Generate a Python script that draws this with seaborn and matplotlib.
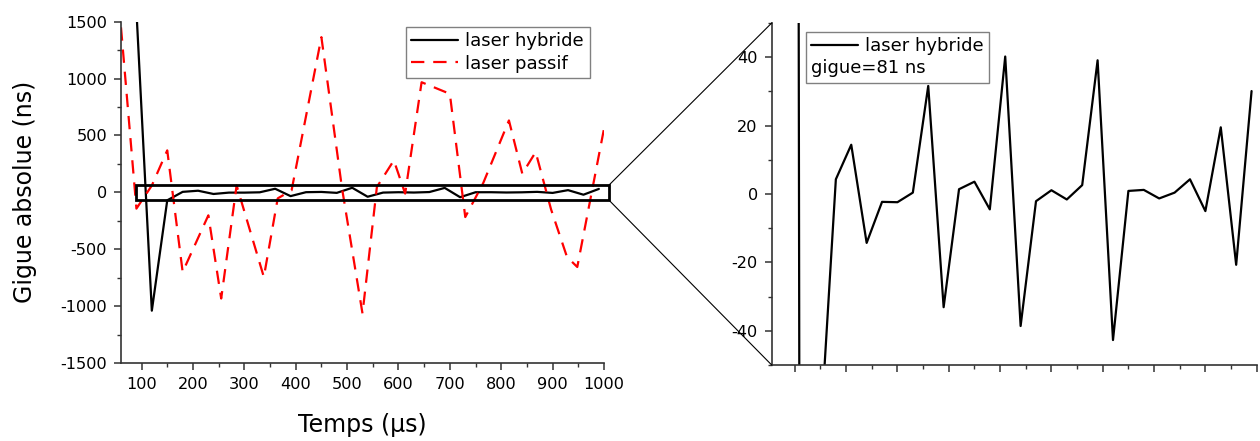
import numpy as np
import pandas as pd
import matplotlib
matplotlib.use("Agg")
import matplotlib.pyplot as plt
import seaborn as sns
from matplotlib.patches import Rectangle, ConnectionPatch
from matplotlib.ticker import MultipleLocator, NullFormatter

# ---- data ----
hyb_t = [90, 120, 150, 180, 210, 240, 270, 300, 330, 360, 390, 420, 450, 480,
         510, 540, 570, 600, 630, 660, 690, 720, 750, 780, 810, 840, 870, 900,
         930, 960, 990]
hyb_v = [1600, -1040, -70, 4.3, 14.4, -14.3, -2.3, -2.4, 0.4, 31.6, -33.1, 1.4,
         3.6, -4.5, 40.2, -38.6, -2.1, 1.1, -1.6, 2.6, 39.1, -42.7, 0.9, 1.2,
         -1.3, 0.4, 4.3, -5.0, 19.5, -20.7, 30.1]

pas_t = [60, 90, 120, 150, 180, 230, 255, 285, 338, 365, 392, 450, 490, 530,
         558, 591, 613, 645, 700, 730, 765, 815, 841, 867, 897, 928, 948, 1000]
pas_v = [1450, -143, 60, 369, -700, -202, -933, 61, -744, -53, 18, 1364, 40,
         -1065, 47, 281, -11, 968, 866, -217, 82, 632, 164, 354, -150, -568,
         -656, 559]

labels_main = ["laser hybride", "laser passif"]
note = "gigue=81 ns"
xlabel = "Temps (µs)"
ylabel = "Gigue absolue (ns)"

zoom_box = (90, 1010, -70, 65)  # x0, x1, y0, y1

# ---- style ----
sns.set_style("ticks")
plt.rcParams['font.family'] = ['DejaVu Sans']
plt.rcParams['axes.unicode_minus'] = False
plt.rcParams['text.color'] = 'black'
plt.rcParams['axes.labelcolor'] = 'black'
plt.rcParams['xtick.color'] = 'black'
plt.rcParams['ytick.color'] = 'black'
spine_c = '#333333'

fig = plt.figure(figsize=(12.6, 4.41), dpi=100)
W, H = 1260, 441
ax1 = fig.add_axes([121 / W, 1 - 363 / H, 483 / W, 341.3 / H])
ax2 = fig.add_axes([771.7 / W, 1 - 365 / H, 485 / W, 342 / H])

df_h = pd.DataFrame({"t": hyb_t, "v": hyb_v})
df_p = pd.DataFrame({"t": pas_t, "v": pas_v})

sns.lineplot(data=df_h, x="t", y="v", ax=ax1, color="black", lw=1.6,
             sort=False, estimator=None, label=labels_main[0])
sns.lineplot(data=df_p, x="t", y="v", ax=ax1, color="#ff0000", lw=1.6,
             sort=False, estimator=None, label=labels_main[1])
ax1.lines[1].set_dashes((6, 4))

sns.lineplot(data=df_h, x="t", y="v", ax=ax2, color="black", lw=1.6,
             sort=False, estimator=None, label=labels_main[0])

for ax in (ax1, ax2):
    sns.despine(ax=ax)
    for s in ("left", "bottom"):
        ax.spines[s].set_color(spine_c)
        ax.spines[s].set_linewidth(1.2)
    ax.tick_params(which="major", direction="out", length=5, width=1.1,
                   color=spine_c, labelcolor="black", labelsize=11.6, pad=5)
    ax.tick_params(which="minor", direction="out", length=3, width=1.0,
                   color=spine_c)

ax1.set_xlim(60, 1000)
ax1.set_ylim(-1500, 1500)
ax1.xaxis.set_major_locator(MultipleLocator(100))
ax1.xaxis.set_minor_locator(MultipleLocator(50))
ax1.yaxis.set_major_locator(MultipleLocator(500))
ax1.yaxis.set_minor_locator(MultipleLocator(250))
ax1.set_xlabel(xlabel, fontsize=17, labelpad=15, color="black")
ax1.set_ylabel(ylabel, fontsize=17, labelpad=17, color="black")

ax2.set_xlim(55, 1000)
ax2.set_ylim(-50, 50)
ax2.xaxis.set_major_locator(MultipleLocator(100))
ax2.xaxis.set_minor_locator(MultipleLocator(50))
ax2.xaxis.set_major_formatter(NullFormatter())
ax2.yaxis.set_major_locator(MultipleLocator(20))
ax2.yaxis.set_minor_locator(MultipleLocator(10))
ax2.set_xlabel("")
ax2.set_ylabel("")

# legends
leg_kw = dict(fontsize=13, frameon=True, fancybox=False, edgecolor="#808080",
              framealpha=1, borderaxespad=0, handlelength=2.6,
              handletextpad=0.4, borderpad=0.3, labelspacing=0.25)
h1, l1 = ax1.get_legend_handles_labels()
leg1 = ax1.legend(h1, l1, loc="upper right", bbox_to_anchor=(0.97, 0.985), **leg_kw)
leg1.get_frame().set_linewidth(1.0)

h2, l2 = ax2.get_legend_handles_labels()
leg2 = ax2.legend(h2[:1], l2[:1], loc="upper left", bbox_to_anchor=(0.07, 0.975),
                  title=note, title_fontsize=13, alignment="left", **leg_kw)
leg2.get_frame().set_linewidth(1.0)
try:
    leg2._legend_box._children.reverse()
except Exception:
    pass
for leg in (leg1, leg2):
    for t in leg.get_texts():
        t.set_color("black")
    leg.get_title().set_color("black")

# zoom rectangle and connectors
x0, x1, y0, y1 = zoom_box
rect = Rectangle((x0, y0), x1 - x0, y1 - y0, fill=False, ec="black", lw=2.0,
                 clip_on=False, zorder=5)
ax1.add_patch(rect)
for ya, yb in ((y1, 1), (y0, 0)):
    con = ConnectionPatch(xyA=(x1, ya), coordsA=ax1.transData,
                          xyB=(0, yb), coordsB=ax2.transAxes,
                          color="black", lw=0.8)
    fig.add_artist(con)

fig.savefig("out.png", dpi=100)
